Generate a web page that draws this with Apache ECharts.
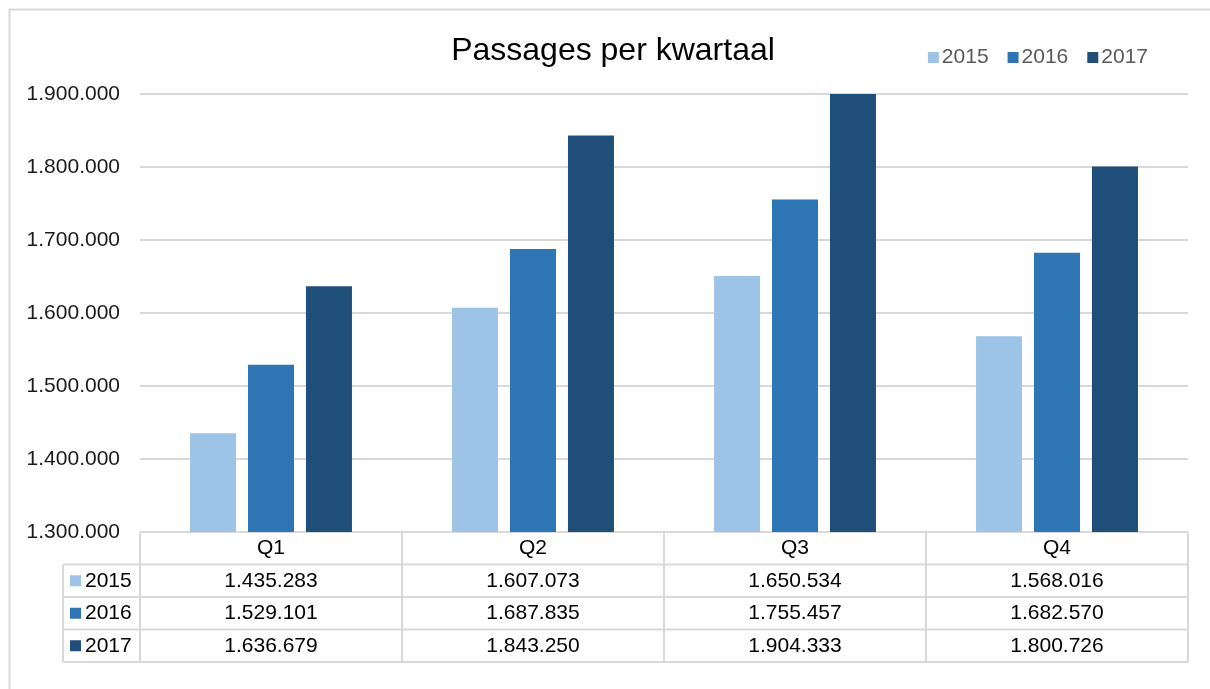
<!DOCTYPE html>
<html>
<head>
<meta charset="utf-8">
<script src="https://cdn.jsdelivr.net/npm/echarts@6/dist/echarts.min.js"></script>
<style>
html,body{margin:0;padding:0;background:#fff;}
#chart{width:1210px;height:689px;}
</style>
</head>
<body>
<div id="chart"></div>
<script>
const categories = ['Q1', 'Q2', 'Q3', 'Q4'];
const seriesNames = ['2015', '2016', '2017'];
const values2015 = [1435283, 1607073, 1650534, 1568016];
const values2016 = [1529101, 1687835, 1755457, 1682570];
const values2017 = [1636679, 1843250, 1904333, 1800726];
const yTicks = [1300000, 1400000, 1500000, 1600000, 1700000, 1800000, 1900000];

const allValues = [values2015, values2016, values2017];
const colors = ['#9DC3E6', '#2E75B6', '#1F4E79'];
const FONT = '"Liberation Sans", Arial, sans-serif';
const LINE = '#d9d9d9';
const FS = 21;

function fmt(v) {
  return String(v).replace(/\B(?=(\d{3})+(?!\d))/g, '.');
}

const W = 1210, H = 689;
const gridLeft = 140, gridRight = 22, gridTop = 94, gridBottom = 157;
const plotRight = W - gridRight;
const plotBottom = H - gridBottom;
const colW = (plotRight - gridLeft) / categories.length;
const rowH = 32.5;
const legendColLeft = 63;

const graphics = [];
graphics.push({ type: 'rect', shape: { x: 9.5, y: 9.5, width: 1300, height: 800 }, style: { fill: null, stroke: LINE, lineWidth: 2 }, silent: true });

const tableTop = plotBottom;
const tableBottom = tableTop + rowH * (seriesNames.length + 1);
graphics.push({ type: 'line', shape: { x1: gridLeft, y1: tableTop, x2: plotRight, y2: tableTop }, style: { stroke: LINE, lineWidth: 2 } });
for (let r = 1; r <= seriesNames.length + 1; r++) {
  const y = tableTop + rowH * r;
  graphics.push({ type: 'line', shape: { x1: legendColLeft, y1: y, x2: plotRight, y2: y }, style: { stroke: LINE, lineWidth: 2 } });
}
for (let c = 0; c <= categories.length; c++) {
  const x = gridLeft + colW * c;
  graphics.push({ type: 'line', shape: { x1: x, y1: tableTop, x2: x, y2: tableBottom }, style: { stroke: LINE, lineWidth: 2 } });
}
graphics.push({ type: 'line', shape: { x1: legendColLeft, y1: tableTop + rowH, x2: legendColLeft, y2: tableBottom }, style: { stroke: LINE, lineWidth: 2 } });

categories.forEach((cat, c) => {
  graphics.push({ type: 'text', x: gridLeft + colW * (c + 0.5), y: tableTop + rowH / 2, style: { text: cat, font: FS + 'px ' + FONT, fill: '#000', align: 'center', verticalAlign: 'middle' } });
});
seriesNames.forEach((name, r) => {
  const yc = tableTop + rowH * (r + 1.5);
  graphics.push({ type: 'rect', shape: { x: 70, y: yc - 5.5, width: 11, height: 11 }, style: { fill: colors[r] } });
  graphics.push({ type: 'text', x: 85, y: yc, style: { text: name, font: FS + 'px ' + FONT, fill: '#000', align: 'left', verticalAlign: 'middle' } });
  allValues[r].forEach((v, c) => {
    graphics.push({ type: 'text', x: gridLeft + colW * (c + 0.5), y: yc, style: { text: fmt(v), font: FS + 'px ' + FONT, fill: '#000', align: 'center', verticalAlign: 'middle' } });
  });
});

const chart = echarts.init(document.getElementById('chart'));
chart.setOption({
  animation: false,
  backgroundColor: '#fff',
  title: {
    text: 'Passages per kwartaal',
    left: 608, top: 30, textAlign: 'center',
    textStyle: { fontFamily: FONT, fontSize: 32, fontWeight: 'normal', color: '#000' }
  },
  legend: {
    data: seriesNames,
    right: 57, top: 42,
    icon: 'rect', itemWidth: 11, itemHeight: 11, itemGap: 19,
    textStyle: { fontFamily: FONT, fontSize: FS, color: '#595959', padding: [0, 0, 0, -2] }
  },
  grid: { left: gridLeft, right: gridRight, top: gridTop, bottom: gridBottom },
  xAxis: {
    type: 'category', data: categories,
    axisLine: { show: false }, axisTick: { show: false }, axisLabel: { show: false }
  },
  yAxis: {
    type: 'value', min: yTicks[0], max: yTicks[yTicks.length - 1], interval: yTicks[1] - yTicks[0],
    axisLine: { show: false }, axisTick: { show: false },
    axisLabel: { formatter: v => fmt(v), fontFamily: FONT, fontSize: FS, color: '#1a1a1a', margin: 20 },
    splitLine: { lineStyle: { color: LINE, width: 2 } }
  },
  series: seriesNames.map((name, i) => ({
    name, type: 'bar', data: allValues[i],
    itemStyle: { color: colors[i] },
    barWidth: 46, barGap: '26%'
  })),
  graphic: graphics
});
</script>
</body>
</html>
